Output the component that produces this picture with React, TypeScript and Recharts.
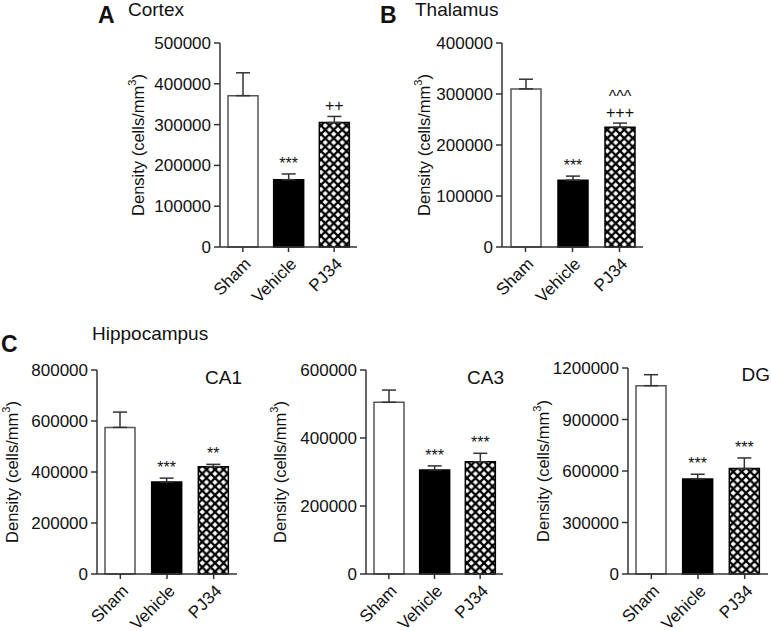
import { BarChart, Bar, XAxis, YAxis, Cell, ErrorBar, LabelList, Label } from 'recharts';

const FONT = '"Liberation Sans", Arial, Helvetica, sans-serif';

const groups = ['Sham', 'Vehicle', 'PJ34'];

const cortexMean = [371000, 165000, 305000];
const cortexSem = [56000, 14000, 15000];
const cortexSig = ['', '***', '++'];
const cortexTicks = [0, 100000, 200000, 300000, 400000, 500000];

const thalamusMean = [310000, 131000, 235000];
const thalamusSem = [19000, 8000, 8000];
const thalamusSig = ['', '***', '^^^\n+++'];
const thalamusTicks = [0, 100000, 200000, 300000, 400000];

const ca1Mean = [575000, 361000, 421000];
const ca1Sem = [60000, 15000, 9000];
const ca1Sig = ['', '***', '**'];
const ca1Ticks = [0, 200000, 400000, 600000, 800000];

const ca3Mean = [505000, 306000, 330000];
const ca3Sem = [36000, 12000, 25000];
const ca3Sig = ['', '***', '***'];
const ca3Ticks = [0, 200000, 400000, 600000];

const dgMean = [1097000, 554000, 614000];
const dgSem = [64000, 27000, 62000];
const dgSig = ['', '***', '***'];
const dgTicks = [0, 300000, 600000, 900000, 1200000];

const XTick = (props: any) => {
  const { x, y, payload } = props;
  return (
    <g transform={`translate(${x + 9},${y + 11})`}>
      <text textAnchor="end" transform="rotate(-45)" fontSize={17} fill="#111" fontFamily={FONT}>
        {payload.value}
      </text>
    </g>
  );
};

function Panel(props: any) {
  const { id, mean, sem, sig, ticks, left, top, plotW, plotH, labelGap } = props;
  const data = groups.map((g, i) => ({ group: g, mean: mean[i], err: [0, sem[i]], sig: sig[i] }));
  const ml = 120;
  const mt = 45;
  const mr = 12;
  const mb = 80;

  const yLabel = (p: any) => {
    const vb = p.viewBox;
    const cx = vb.x + vb.width - labelGap;
    const cy = vb.y + vb.height / 2;
    return (
      <text
        x={cx}
        y={cy}
        transform={`rotate(-90, ${cx}, ${cy})`}
        textAnchor="middle"
        dominantBaseline="central"
        fontSize={16.5}
        fill="#111"
        fontFamily={FONT}
      >
        Density (cells/mm
        <tspan dy={-6} fontSize={11}>3</tspan>
        <tspan dy={6}>)</tspan>
      </text>
    );
  };

  const sigLabel = (p: any) => {
    const i = p.index;
    const text = data[i].sig;
    if (!text) return null;
    const pxPerUnit = p.height / data[i].mean;
    const errTop = p.y - sem[i] * pxPerUnit;
    const lines = String(text).split('\n');
    const cx = p.x + p.width / 2;
    return (
      <text textAnchor="middle" fontSize={16} fill="#111" fontFamily={FONT}>
        {lines.map((ln, k) => (
          <tspan key={k} x={cx} y={errTop - 5 - (lines.length - 1 - k) * 16}>
            {ln}
          </tspan>
        ))}
      </text>
    );
  };

  return (
    <div style={{ position: 'absolute', left: left - ml, top: top - mt }}>
      <BarChart
        width={ml + plotW + mr}
        height={mt + plotH + mb}
        data={data}
        margin={{ top: mt, right: mr, bottom: 0, left: 0 }}
      >
        <defs>
          <pattern id={`hatch-${id}`} width={8.5} height={8.5} patternUnits="userSpaceOnUse">
            <rect width={8.5} height={8.5} fill="#fff" />
            <path d="M0,0 L8.5,8.5 M8.5,0 L0,8.5" stroke="#000" strokeWidth={2.2} />
          </pattern>
        </defs>
        <XAxis
          dataKey="group"
          height={mb}
          interval={0}
          tick={<XTick />}
          tickSize={5}
          axisLine={{ stroke: '#333', strokeWidth: 1.5 }}
          tickLine={{ stroke: '#333', strokeWidth: 1.5 }}
        />
        <YAxis
          width={ml}
          domain={[0, ticks[ticks.length - 1]]}
          ticks={ticks}
          interval={0}
          tickSize={6}
          tickMargin={3}
          tick={{ fontSize: 17, fill: '#111', fontFamily: FONT }}
          axisLine={{ stroke: '#333', strokeWidth: 1.5 }}
          tickLine={{ stroke: '#333', strokeWidth: 1.5 }}
        >
          <Label content={yLabel} />
        </YAxis>
        <Bar dataKey="mean" barSize={30} isAnimationActive={false}>
          <Cell fill="#fff" stroke="#555" strokeWidth={1.5} />
          <Cell fill="#000" stroke="#000" strokeWidth={1.5} />
          <Cell fill={`url(#hatch-${id})`} stroke="#000" strokeWidth={1.5} />
          <ErrorBar dataKey="err" width={7} stroke="#333" strokeWidth={1.5} direction="y" />
          <LabelList dataKey="sig" content={sigLabel} />
        </Bar>
      </BarChart>
    </div>
  );
}

export default function App() {
  return (
    <div style={{ position: 'absolute', left: 0, top: 0, width: 771, height: 631, background: '#fff', fontFamily: FONT }}>
      <Panel id="a" mean={cortexMean} sem={cortexSem} sig={cortexSig} ticks={cortexTicks}
        left={220} top={43} plotW={137} plotH={204} labelGap={82} />
      <Panel id="b" mean={thalamusMean} sem={thalamusSem} sig={thalamusSig} ticks={thalamusTicks}
        left={502} top={43} plotW={141} plotH={204} labelGap={78} />
      <Panel id="c1" mean={ca1Mean} sem={ca1Sem} sig={ca1Sig} ticks={ca1Ticks}
        left={97} top={370} plotW={140} plotH={204} labelGap={85} />
      <Panel id="c3" mean={ca3Mean} sem={ca3Sem} sig={ca3Sig} ticks={ca3Ticks}
        left={366} top={370} plotW={137} plotH={204} labelGap={86} />
      <Panel id="dg" mean={dgMean} sem={dgSem} sig={dgSig} ticks={dgTicks}
        left={628} top={368} plotW={140} plotH={206} labelGap={85} />
      <svg width={771} height={631} style={{ position: 'absolute', left: 0, top: 0, pointerEvents: 'none' }}>
        <g fontFamily={FONT} fill="#111">
          <text x={98} y={23} fontSize={23} fontWeight="bold">A</text>
          <text x={128} y={15.5} fontSize={19}>Cortex</text>
          <text x={380} y={23} fontSize={23} fontWeight="bold">B</text>
          <text x={415} y={15.5} fontSize={19}>Thalamus</text>
          <text x={1} y={352} fontSize={23} fontWeight="bold">C</text>
          <text x={92} y={340} fontSize={19}>Hippocampus</text>
          <text x={242} y={384} fontSize={19} textAnchor="end">CA1</text>
          <text x={504} y={384} fontSize={19} textAnchor="end">CA3</text>
          <text x={770} y={381} fontSize={19} textAnchor="end">DG</text>
        </g>
      </svg>
    </div>
  );
}
